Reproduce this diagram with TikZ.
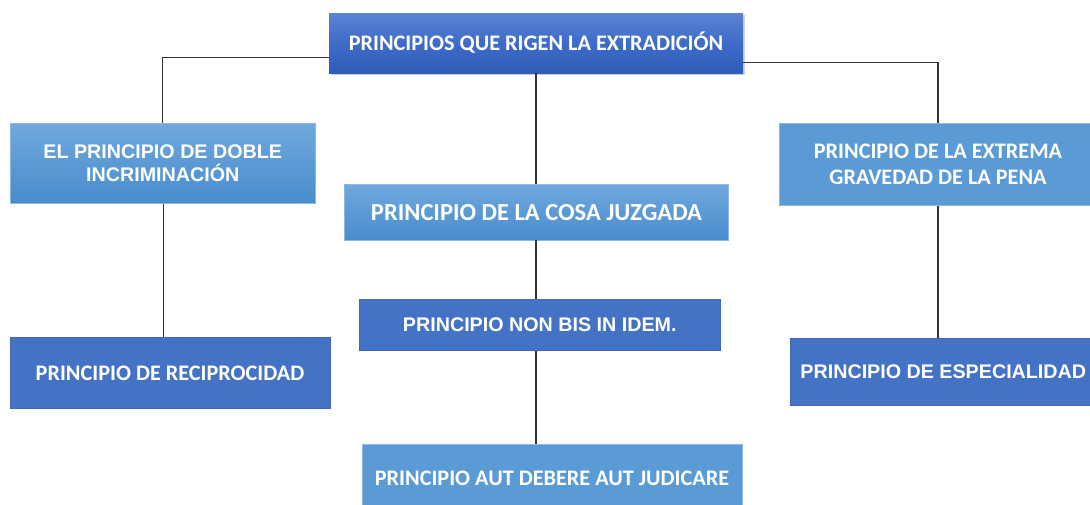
\documentclass[tikz,border=0pt]{standalone}
\usepackage{fontspec}
\usetikzlibrary{shadows,shadings}
\newfontfamily\calfont{Carlito}
\newfontfamily\arifont{Liberation Sans}
\definecolor{darkbox}{HTML}{4472C4}
\definecolor{lightbox}{HTML}{5B9BD5}
\definecolor{lightedge}{HTML}{8DB6E2}
\definecolor{darkedge}{HTML}{4068B8}
\definecolor{linecol}{HTML}{333333}
\begin{document}
\begin{tikzpicture}[x=1pt,y=-1pt,
  basebox/.style={rectangle, inner sep=0pt, align=center, text=white, font=\bfseries},
  topbox/.style={basebox, top color={rgb,255:red,92;green,130;blue,211}, bottom color={rgb,255:red,46;green,92;blue,184}, middle color={rgb,255:red,62;green,108;blue,200},
     drop shadow={shadow xshift=2pt, shadow yshift=-2pt, opacity=0.35}},
  gradbox/.style={basebox, top color={rgb,255:red,112;green,168;blue,222}, bottom color={rgb,255:red,72;green,140;blue,204}, draw=lightedge, line width=0.8pt},
  flatlight/.style={basebox, fill=lightbox, draw=lightedge, line width=0.8pt},
  flatdark/.style={basebox, fill=darkbox, draw=darkedge, line width=0.8pt},
  cal/.style={font=\calfont\bfseries\fontsize{#1}{#1*1.17}\selectfont},
  ari/.style={font=\arifont\bfseries\fontsize{#1}{22.3}\selectfont},
  conn/.style={draw=linecol, line width=1.1pt}
]
\useasboundingbox (0,0) rectangle (1090,504);
\fill[white] (0,0) rectangle (1090,504);

\node[topbox, minimum width=414pt, minimum height=60pt, font=\calfont\bfseries\fontsize{22.2}{26}\selectfont] (top) at (536,43) {PRINCIPIOS QUE RIGEN LA EXTRADICIÓN};

\node[gradbox, minimum width=305.5pt, minimum height=80pt, font=\arifont\bfseries\fontsize{19.7}{22.3}\selectfont] (doble) at (162.75,163.3) {EL PRINCIPIO DE DOBLE\\INCRIMINACIÓN};

\node[gradbox, minimum width=384.4pt, minimum height=55.3pt, font=\calfont\bfseries\fontsize{24.5}{28}\selectfont] (cosa) at (536.5,212.4) {PRINCIPIO DE LA COSA JUZGADA};

\node[flatlight, minimum width=317.4pt, minimum height=82.4pt, font=\calfont\bfseries\fontsize{22.2}{26}\selectfont] (extrema) at (938,164.5) {PRINCIPIO DE LA EXTREMA\\GRAVEDAD DE LA PENA};

\node[flatdark, minimum width=320pt, minimum height=70.6pt, font=\calfont\bfseries\fontsize{22.2}{26}\selectfont] (recip) at (170,373) {PRINCIPIO DE RECIPROCIDAD};

\node[flatdark, minimum width=360.3pt, minimum height=51.4pt, font=\arifont\bfseries\fontsize{19.7}{22.3}\selectfont] (nonbis) at (539.8,325) {PRINCIPIO NON BIS IN IDEM.};

\node[flatdark, minimum width=306.7pt, minimum height=67pt, font=\arifont\bfseries\fontsize{19.7}{22.3}\selectfont] (espec) at (943.3,371.8) {PRINCIPIO DE ESPECIALIDAD};

\node[flatlight, minimum width=380pt, minimum height=68pt, font=\calfont\bfseries\fontsize{22.2}{26}\selectfont] (aut) at (552,478) {PRINCIPIO AUT DEBERE AUT JUDICARE};

\begin{scope}[on background layer/.try]
\end{scope}
\draw[conn] ([yshift=-14.7pt]top.west) -| (doble.north);
\draw[conn] ([yshift=-19.7pt]top.east) -| (extrema.north);
\draw[conn] (top.south) -- (top.south |- cosa.north);
\draw[conn] (cosa.south -| top.south) -- (top.south |- nonbis.north);
\draw[conn] (nonbis.south -| top.south) -- (top.south |- aut.north);
\draw[conn] ([xshift=0.5pt]doble.south) -- ([xshift=0.5pt]doble.south |- recip.north);
\draw[conn] (extrema.south) -- (extrema.south |- espec.north);
\end{tikzpicture}
\end{document}
